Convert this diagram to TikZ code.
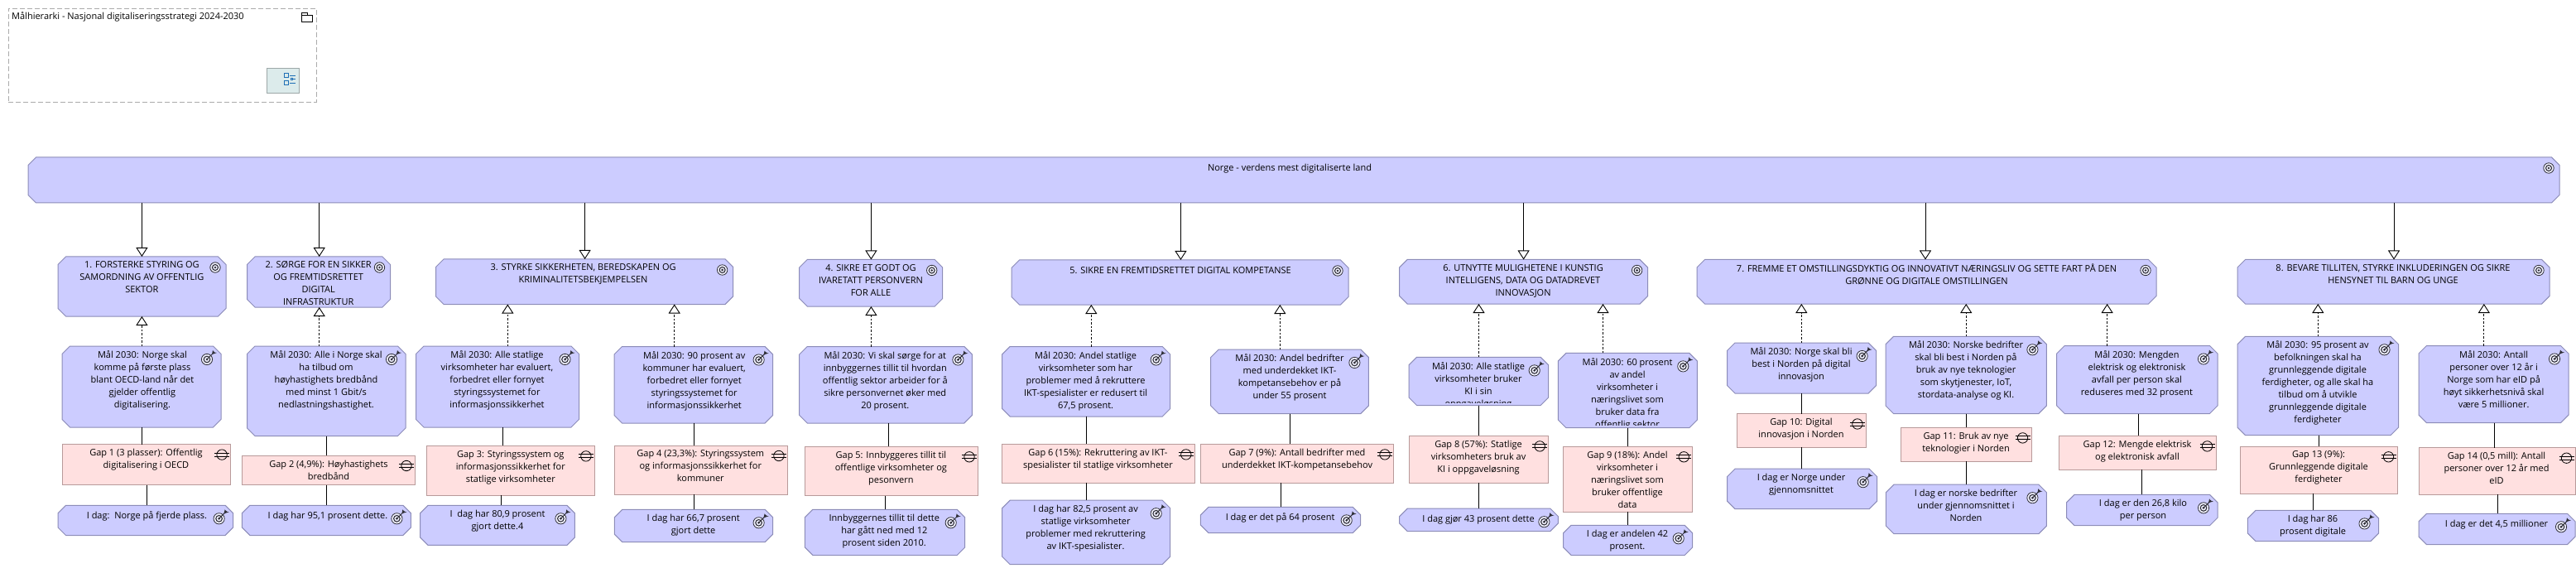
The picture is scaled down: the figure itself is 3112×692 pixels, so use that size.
\documentclass[tikz,border=0pt]{standalone}
\usepackage{fontspec}
\setmainfont{Open Sans}
\usetikzlibrary{arrows.meta}

\definecolor{goalfill}{HTML}{CCCCFF}
\definecolor{goalline}{HTML}{8C8CB8}
\definecolor{gapfill}{HTML}{FFE0E0}
\definecolor{gapline}{HTML}{B89A9A}
\definecolor{tabfill}{HTML}{DCEBEB}
\definecolor{tabline}{HTML}{9DA8A8}
\definecolor{tabicon}{HTML}{1F6FB5}
\definecolor{markgrey}{HTML}{303038}

\makeatletter
\pgfdeclareshape{octbox}{
  \inheritsavedanchors[from=rectangle]
  \inheritanchorborder[from=rectangle]
  \inheritanchor[from=rectangle]{center}
  \inheritanchor[from=rectangle]{north}
  \inheritanchor[from=rectangle]{south}
  \inheritanchor[from=rectangle]{east}
  \inheritanchor[from=rectangle]{west}
  \backgroundpath{
    \southwest \edef\octxa{\the\pgf@x}\edef\octya{\the\pgf@y}
    \northeast \edef\octxb{\the\pgf@x}\edef\octyb{\the\pgf@y}
    \pgfpathmoveto{\pgfpoint{\octxa+9.5pt}{\octya}}
    \pgfpathlineto{\pgfpoint{\octxb-9.5pt}{\octya}}
    \pgfpathlineto{\pgfpoint{\octxb}{\octya+9.5pt}}
    \pgfpathlineto{\pgfpoint{\octxb}{\octyb-9.5pt}}
    \pgfpathlineto{\pgfpoint{\octxb-9.5pt}{\octyb}}
    \pgfpathlineto{\pgfpoint{\octxa+9.5pt}{\octyb}}
    \pgfpathlineto{\pgfpoint{\octxa}{\octyb-9.5pt}}
    \pgfpathlineto{\pgfpoint{\octxa}{\octya+9.5pt}}
    \pgfpathclose
  }
}
\makeatother

\tikzset{
  targetmark/.pic={
    \fill[white!70!goalfill] (0,0) circle (6.2);
    \draw[markgrey, line width=0.8pt] (0,0) circle (6.2);
    \draw[markgrey, line width=1.1pt] (0,0) circle (3.5);
    \fill[markgrey] (0,0) circle (1.4);
  },
  dartmark/.pic={
    \fill[white!70!goalfill] (0,0) circle (6.6);
    \draw[markgrey, line width=0.8pt] (0,0) circle (6.6);
    \draw[markgrey, line width=1.1pt] (0,0) circle (3.8);
    \fill[markgrey] (0,0) circle (1.5);
    \draw[markgrey, line width=1pt] (0,0) -- (9,-9);
    \fill[markgrey] (6,-6) -- (7,-11) -- (9,-8.5) -- (12,-8) -- cycle;
  },
  gapmark/.pic={
    \draw[black, line width=0.8pt] (0,0) circle (6.2);
    \draw[black, line width=1pt] (-9,-2) -- (9,-2);
    \draw[black, line width=1pt] (-9,2) -- (9,2);
  },
  boxat/.style n args={4}{
    at={({(#1+#3)/2},{(#2+#4)/2})},
    minimum width={#3-#1},
    minimum height={#4-#2}
  },
  chambox/.style={
    shape=octbox, draw=goalline, fill=goalfill, line width=1pt, inner sep=0pt, outer sep=0pt
  },
  targetbox/.style={chambox, path picture={
    \pic at ([shift={(-13,13)}]path picture bounding box.north east) {targetmark};}},
  dartbox/.style={chambox, path picture={
    \pic at ([shift={(-17,16)}]path picture bounding box.north east) {dartmark};}},
  gapbox/.style={
    rectangle, draw=gapline, fill=gapfill, line width=1pt, inner sep=0pt, outer sep=0pt,
    path picture={\pic at ([shift={(-10.5,12.5)}]path picture bounding box.north east) {gapmark};}
  },
  boxtext/.style={
    anchor=north, yshift=-5.5pt, inner sep=0pt, align=center, text=black,
    font=\fontsize{11}{15}\selectfont, execute at begin node=\strut
  },
  realize/.style={draw=black, line width=0.9pt, -{Triangle[fill=white, length=11pt, width=14pt]}},
  refine/.style={draw=black, line width=0.8pt, dash pattern=on 2.5pt off 2pt,
    -{Triangle[fill=white, length=11pt, width=14pt, line width=0.9pt]}},
  link/.style={draw=black, line width=0.9pt}
}

\begin{document}
\begin{tikzpicture}[x=1pt, y=-1pt]
  \useasboundingbox (0,0) rectangle (3112,692);

  \node[rectangle, draw=black!33, line width=1pt, dash pattern=on 6pt off 3pt, boxat={10}{10.5}{382}{123.5}] (folder) {};
  \node[anchor=base west, inner sep=0pt, font=\fontsize{11}{15}\selectfont] (foldert) at (14,24) {Målhierarki - Nasjonal digitaliseringsstrategi 2024-2030};
  \draw[black, line width=1pt] (364.3,19) rectangle (377.7,26.7) (364.3,19) -- (364.3,16) -- (371,16) -- (371,19);
  \node[rectangle, draw=tabline, fill=tabfill, line width=1pt, boxat={322.3}{82.5}{361.7}{112.5}] (tab) {};
  \draw[tabicon, line width=0.9pt] (343.3,88.3) rectangle (348.7,93.7) (343.3,97.3) rectangle (348.7,102.7) (351.3,94.3) rectangle (353.7,96.7);
  \draw[tabicon, line width=0.9pt] (350,91.3) -- (357,91.3) (353.7,95.5) -- (357,95.5) (350,100.3) -- (357,100.3);

  \node[targetbox, boxat={34}{190}{3092}{245}] (top) {};
  \node[boxtext] (topt) at (top.north -| 1558,0) {Norge - verdens mest digitaliserte land};

  \node[targetbox, boxat={70}{310}{273}{382}] (g1) {};
  \node[boxtext] (g1t) at (g1.north -| 171.4,0) {1. FORSTERKE STYRING OG\\SAMORDNING AV OFFENTLIG\\SEKTOR};
  \node[targetbox, boxat={298.5}{310}{471.5}{371}] (g2) {};
  \begin{scope}
    \clip (298.5,310) rectangle (471.5,367.5);
    \node[boxtext] (g2t) at (g2.north -| 384.7,0) {2. SØRGE FOR EN SIKKER\\OG FREMTIDSRETTET\\DIGITAL\\INFRASTRUKTUR};
  \end{scope}
  \node[targetbox, boxat={526.5}{313}{885.6}{367.5}] (g3) {};
  \node[boxtext] (g3t) at (g3.north -| 704.6,0) {3. STYRKE SIKKERHETEN, BEREDSKAPEN OG\\KRIMINALITETSBEKJEMPELSEN};
  \node[targetbox, boxat={965.7}{313.5}{1138.7}{370}] (g4) {};
  \node[boxtext] (g4t) at (g4.north -| 1052,0) {4. SIKRE ET GODT OG\\IVARETATT PERSONVERN\\FOR ALLE};
  \node[targetbox, boxat={1222}{314}{1629}{368}] (g5) {};
  \node[boxtext] (g5t) at (g5.north -| 1426,0) {5. SIKRE EN FREMTIDSRETTET DIGITAL KOMPETANSE};
  \node[targetbox, boxat={1690.6}{313.5}{1990.6}{367}] (g6) {};
  \node[boxtext] (g6t) at (g6.north -| 1840,0) {6. UTNYTTE MULIGHETENE I KUNSTIG\\INTELLIGENS, DATA OG DATADREVET\\INNOVASJON};
  \node[targetbox, boxat={2050}{313.5}{2605}{367}] (g7) {};
  \node[boxtext] (g7t) at (g7.north -| 2327.5,0) {7. FREMME ET OMSTILLINGSDYKTIG OG INNOVATIVT NÆRINGSLIV OG SETTE FART PÅ DEN\\GRØNNE OG DIGITALE OMSTILLINGEN};
  \node[targetbox, boxat={2703}{313.5}{3080}{367}] (g8) {};
  \node[boxtext] (g8t) at (g8.north -| 2891,0) {8. BEVARE TILLITEN, STYRKE INKLUDERINGEN OG SIKRE\\HENSYNET TIL BARN OG UNGE};

  \node[dartbox, boxat={75}{418}{267}{516}] (m1) {};
  \node[boxtext] (m1t) at (m1.north -| 172,0) {Mål 2030: Norge skal\\komme på første plass\\blant OECD-land når det\\gjelder offentlig\\digitalisering.};
  \node[dartbox, boxat={298.5}{418}{490}{526.5}] (m2) {};
  \node[boxtext] (m2t) at (m2.north -| 394,0) {Mål 2030: Alle i Norge skal\\ha tilbud om\\høyhastighets bredbånd\\med minst 1 Gbit/s\\nedlastningshastighet.};
  \node[dartbox, boxat={502.5}{418}{699.5}{516}] (m3) {};
  \node[boxtext] (m3t) at (m3.north -| 600.5,0) {Mål 2030: Alle statlige\\virksomheter har evaluert,\\forbedret eller fornyet\\styringssystemet for\\informasjonssikkerhet};
  \node[dartbox, boxat={742}{418.5}{933.6}{511}] (m4) {};
  \node[boxtext] (m4t) at (m4.north -| 838.7,0) {Mål 2030: 90 prosent av\\kommuner har evaluert,\\forbedret eller fornyet\\styringssystemet for\\informasjonssikkerhet};
  \node[dartbox, boxat={965.7}{418.5}{1174.4}{511}] (m5) {};
  \node[boxtext] (m5t) at (m5.north -| 1069.3,0) {Mål 2030: Vi skal sørge for at\\innbyggernes tillit til hvordan\\offentlig sektor arbeider for å\\sikre personvernet øker med\\20 prosent.};
  \node[dartbox, boxat={1210.6}{418.5}{1413.7}{503}] (m6) {};
  \node[boxtext] (m6t) at (m6.north -| 1311.6,0) {Mål 2030: Andel statlige\\virksomheter som har\\problemer med å rekruttere\\IKT-spesialister er redusert til\\67,5 prosent.};
  \node[dartbox, boxat={1462.7}{422}{1653.4}{499.5}] (m7) {};
  \node[boxtext] (m7t) at (m7.north -| 1558,0) {Mål 2030: Andel bedrifter\\med underdekket IKT-\\kompetansebehov er på\\under 55 prosent};
  \node[dartbox, boxat={1702}{431.4}{1870.7}{489.5}] (m8) {};
  \begin{scope}
    \clip (1702,431.4) rectangle (1870.7,486);
    \node[boxtext] (m8t) at (m8.north -| 1786,0) {Mål 2030: Alle statlige\\virksomheter bruker\\KI i sin\\oppgaveløsning};
  \end{scope}
  \node[dartbox, boxat={1882.4}{426.4}{2050.3}{516.7}] (m9) {};
  \begin{scope}
    \clip (1882.4,426.4) rectangle (2050.3,513.5);
    \node[boxtext] (m9t) at (m9.north -| 1966,0) {Mål 2030: 60 prosent\\av andel\\virksomheter i\\næringslivet som\\bruker data fra\\offentlig sektor};
  \end{scope}
  \node[dartbox, boxat={2086.5}{414}{2266.6}{475}] (m10) {};
  \node[boxtext] (m10t) at (m10.north -| 2176,0) {Mål 2030: Norge skal bli\\best i Norden på digital\\innovasjon};
  \node[dartbox, boxat={2278}{406.3}{2472.4}{499.5}] (m11) {};
  \node[boxtext] (m11t) at (m11.north -| 2375,0) {Mål 2030: Norske bedrifter\\skal bli best i Norden på\\bruk av nye teknologier\\som skytjenester, IoT,\\stordata-analyse og KI.};
  \node[dartbox, boxat={2484.7}{417.5}{2679}{499.5}] (m12) {};
  \node[boxtext] (m12t) at (m12.north -| 2581.4,0) {Mål 2030: Mengden\\elektrisk og elektronisk\\avfall per person skal\\reduseres med 32 prosent};
  \node[dartbox, boxat={2703}{406.3}{2897.5}{525.7}] (m13) {};
  \node[boxtext] (m13t) at (m13.north -| 2800,0) {Mål 2030: 95 prosent av\\befolkningen skal ha\\grunnleggende digitale\\ferdigheter, og alle skal ha\\tilbud om å utvikle\\grunnleggende digitale\\ferdigheter};
  \node[dartbox, boxat={2922}{417.5}{3103}{510.6}] (m14) {};
  \node[boxtext] (m14t) at (m14.north -| 3012.6,0) {Mål 2030: Antall\\personer over 12 år i\\Norge som har eID på\\høyt sikkerhetsnivå skal\\være 5 millioner.};

  \node[gapbox, boxat={75}{536.6}{278.6}{585.6}] (gp1) {};
  \node[boxtext] (gp1t) at (gp1.north -| 176.5,0) {Gap 1 (3 plasser): Offentlig\\digitalisering i OECD};
  \node[gapbox, boxat={292.3}{550}{501.5}{585.6}] (gp2) {};
  \node[boxtext] (gp2t) at (gp2.north -| 397,0) {Gap 2 (4,9\%): Høyhastighets\\bredbånd};
  \node[gapbox, boxat={515.3}{538.4}{718.4}{598.4}] (gp3) {};
  \node[boxtext] (gp3t) at (gp3.north -| 616.8,0) {Gap 3: Styringssystem og\\informasjonssikkerhet for\\statlige virksomheter};
  \node[gapbox, boxat={742.3}{538}{951.4}{597.4}] (gp4) {};
  \node[boxtext] (gp4t) at (gp4.north -| 846.3,0) {Gap 4 (23,3\%): Styringssystem\\og informasjonssikkerhet for\\kommuner};
  \node[gapbox, boxat={972.3}{539.3}{1181.5}{598.5}] (gp5) {};
  \node[boxtext] (gp5t) at (gp5.north -| 1076.4,0) {Gap 5: Innbyggeres tillit til\\offentlige virksomheter og\\pesonvern};
  \node[gapbox, boxat={1210.6}{536.4}{1443.3}{583.4}] (gp6) {};
  \node[boxtext] (gp6t) at (gp6.north -| 1326.4,0) {Gap 6 (15\%): Rekruttering av IKT-\\spesialister til statlige virksomheter};
  \node[gapbox, boxat={1450.4}{536.4}{1683.5}{583.4}] (gp7) {};
  \node[boxtext] (gp7t) at (gp7.north -| 1567,0) {Gap 7 (9\%): Antall bedrifter med\\underdekket IKT-kompetansebehov};
  \node[gapbox, boxat={1702.3}{526.4}{1870.7}{583.4}] (gp8) {};
  \node[boxtext] (gp8t) at (gp8.north -| 1786,0) {Gap 8 (57\%): Statlige\\virksomheters bruk av\\KI i oppgaveløsning};
  \node[gapbox, boxat={1888.6}{539.3}{2044.7}{618.2}] (gp9) {};
  \node[boxtext] (gp9t) at (gp9.north -| 1966,0) {Gap 9 (18\%): Andel\\virksomheter i\\næringslivet som\\bruker offentlige\\data};
  \node[gapbox, boxat={2098.3}{499.5}{2254.4}{540.4}] (gp10) {};
  \node[boxtext] (gp10t) at (gp10.north -| 2176,0) {Gap 10: Digital\\innovasjon i Norden};
  \node[gapbox, boxat={2296.7}{516.4}{2454}{557}] (gp11) {};
  \node[boxtext] (gp11t) at (gp11.north -| 2375,0) {Gap 11: Bruk av nye\\teknologier i Norden};
  \node[gapbox, boxat={2487.8}{526.4}{2677}{567.3}] (gp12) {};
  \node[boxtext] (gp12t) at (gp12.north -| 2582,0) {Gap 12: Mengde elektrisk\\og elektronisk avfall};
  \node[gapbox, boxat={2706}{539.3}{2896}{596.3}] (gp13) {};
  \node[boxtext] (gp13t) at (gp13.north -| 2801,0) {Gap 13 (9\%):\\Grunnleggende digitale\\ferdigheter};
  \node[gapbox, boxat={2922}{540.7}{3111}{597.4}] (gp14) {};
  \node[boxtext] (gp14t) at (gp14.north -| 3016,0) {Gap 14 (0,5 mill): Antall\\personer over 12 år med\\eID};

  \node[dartbox, boxat={70}{610.3}{281.6}{646.5}] (d1) {};
  \node[boxtext] (d1t) at (d1.north -| 177.5,0) {I dag:\ \ Norge på fjerde plass.};
  \node[dartbox, boxat={292.3}{610.3}{496.4}{646.5}] (d2) {};
  \node[boxtext] (d2t) at (d2.north -| 396,0) {I dag har 95,1 prosent dette.};
  \node[dartbox, boxat={507.6}{610.3}{694.4}{658.4}] (d3) {};
  \node[boxtext] (d3t) at (d3.north -| 601,0) {I\ \ dag har 80,9 prosent\\gjort dette.4};
  \node[dartbox, boxat={742.3}{615.3}{933.6}{654.7}] (d4) {};
  \node[boxtext] (d4t) at (d4.north -| 837.6,0) {I dag har 66,7 prosent\\gjort dette};
  \node[dartbox, boxat={972.3}{615.3}{1165.7}{670.5}] (d5) {};
  \node[boxtext] (d5t) at (d5.north -| 1068.3,0) {Innbyggernes tillit til dette\\har gått ned med 12\\prosent siden 2010.};
  \node[dartbox, boxat={1210.6}{604.2}{1413.7}{681.6}] (d6) {};
  \node[boxtext] (d6t) at (d6.north -| 1311.6,0) {I dag har 82,5 prosent av\\statlige virksomheter\\problemer med rekruttering\\av IKT-spesialister.};
  \node[dartbox, boxat={1450.4}{612.4}{1643.7}{643.6}] (d7) {};
  \node[boxtext] (d7t) at (d7.north -| 1546.6,0) {I dag er det på 64 prosent};
  \node[dartbox, boxat={1690.6}{614.2}{1882.4}{641.5}] (d8) {};
  \node[boxtext] (d8t) at (d8.north -| 1786,0) {I dag gjør 43 prosent dette};
  \node[dartbox, boxat={1888.6}{634.3}{2044.7}{670.5}] (d9) {};
  \node[boxtext] (d9t) at (d9.north -| 1966,0) {I dag er andelen 42\\prosent.};
  \node[dartbox, boxat={2086.5}{566.2}{2267.7}{614.6}] (d10) {};
  \node[boxtext] (d10t) at (d10.north -| 2176,0) {I dag er Norge under\\gjennomsnittet};
  \node[dartbox, boxat={2278.4}{585.2}{2472.4}{644.7}] (d11) {};
  \node[boxtext] (d11t) at (d11.north -| 2375,0) {I dag er norske bedrifter\\under gjennomsnittet i\\Norden};
  \node[dartbox, boxat={2496.5}{597.4}{2679}{634.7}] (d12) {};
  \node[boxtext] (d12t) at (d12.north -| 2589,0) {I dag er den 26,8 kilo\\per person};
  \node[dartbox, boxat={2715.4}{616.4}{2873.5}{653.6}] (d13) {};
  \node[boxtext] (d13t) at (d13.north -| 2794,0) {I dag har 86\\prosent digitale};
  \node[dartbox, boxat={2922}{620.3}{3111}{657.6}] (d14) {};
  \node[boxtext] (d14t) at (d14.north -| 3016,0) {I dag er det 4,5 millioner};

  \draw[realize] (top.south -| 171.4,0) -- (g1.north -| 171.4,0);
  \draw[realize] (top.south -| 385.7,0) -- (g2.north -| 385.7,0);
  \draw[realize] (top.south -| 706.6,0) -- (g3.north -| 706.6,0);
  \draw[realize] (top.south -| 1052.4,0) -- (g4.north -| 1052.4,0);
  \draw[realize] (top.south -| 1426.4,0) -- (g5.north -| 1426.4,0);
  \draw[realize] (top.south -| 1840.6,0) -- (g6.north -| 1840.6,0);
  \draw[realize] (top.south -| 2326,0) -- (g7.north -| 2326,0);
  \draw[realize] (top.south -| 2892,0) -- (g8.north -| 2892,0);

  \draw[refine] (m1.north -| 171.4,0) -- (g1.south -| 171.4,0);
  \draw[refine] (m2.north -| 385.7,0) -- (g2.south -| 385.7,0);
  \draw[refine] (m3.north -| 613.3,0) -- (g3.south -| 613.3,0);
  \draw[refine] (m4.north -| 814.7,0) -- (g3.south -| 814.7,0);
  \draw[refine] (m5.north -| 1052.4,0) -- (g4.south -| 1052.4,0);
  \draw[refine] (m6.north -| 1318.3,0) -- (g5.south -| 1318.3,0);
  \draw[refine] (m7.north -| 1546.3,0) -- (g5.south -| 1546.3,0);
  \draw[refine] (m8.north -| 1786.5,0) -- (g6.south -| 1786.5,0);
  \draw[refine] (m9.north -| 1936.5,0) -- (g6.south -| 1936.5,0);
  \draw[refine] (m10.north -| 2176.3,0) -- (g7.south -| 2176.3,0);
  \draw[refine] (m11.north -| 2375.2,0) -- (g7.south -| 2375.2,0);
  \draw[refine] (m12.north -| 2545.6,0) -- (g7.south -| 2545.6,0);
  \draw[refine] (m13.north -| 2800.3,0) -- (g8.south -| 2800.3,0);
  \draw[refine] (m14.north -| 3000.8,0) -- (g8.south -| 3000.8,0);

  \draw[link] (m1.south -| 171.4,0) -- (gp1.north -| 171.4,0);
  \draw[link] (m2.south -| 394.4,0) -- (gp2.north -| 394.4,0);
  \draw[link] (m3.south -| 607.7,0) -- (gp3.north -| 607.7,0);
  \draw[link] (m4.south -| 838.7,0) -- (gp4.north -| 838.7,0);
  \draw[link] (m5.south -| 1073.4,0) -- (gp5.north -| 1073.4,0);
  \draw[link] (m6.south -| 1312.7,0) -- (gp6.north -| 1312.7,0);
  \draw[link] (m7.south -| 1558.6,0) -- (gp7.north -| 1558.6,0);
  \draw[link] (m8.south -| 1786.5,0) -- (gp8.north -| 1786.5,0);
  \draw[link] (m9.south -| 1966.6,0) -- (gp9.north -| 1966.6,0);
  \draw[link] (m10.south -| 2176.3,0) -- (gp10.north -| 2176.3,0);
  \draw[link] (m11.south -| 2375.2,0) -- (gp11.north -| 2375.2,0);
  \draw[link] (m12.south -| 2583,0) -- (gp12.north -| 2583,0);
  \draw[link] (m13.south -| 2801.3,0) -- (gp13.north -| 2801.3,0);
  \draw[link] (m14.south -| 3013,0) -- (gp14.north -| 3013,0);

  \draw[link] (gp1.south -| 177.6,0) -- (d1.north -| 177.6,0);
  \draw[link] (gp2.south -| 394.4,0) -- (d2.north -| 394.4,0);
  \draw[link] (gp3.south -| 605.6,0) -- (d3.north -| 605.6,0);
  \draw[link] (gp4.south -| 838.7,0) -- (d4.north -| 838.7,0);
  \draw[link] (gp5.south -| 1069.3,0) -- (d5.north -| 1069.3,0);
  \draw[link] (gp6.south -| 1312.7,0) -- (d6.north -| 1312.7,0);
  \draw[link] (gp7.south -| 1547.3,0) -- (d7.north -| 1547.3,0);
  \draw[link] (gp8.south -| 1786.5,0) -- (d8.north -| 1786.5,0);
  \draw[link] (gp9.south -| 1966.6,0) -- (d9.north -| 1966.6,0);
  \draw[link] (gp10.south -| 2176.3,0) -- (d10.north -| 2176.3,0);
  \draw[link] (gp11.south -| 2375.2,0) -- (d11.north -| 2375.2,0);
  \draw[link] (gp12.south -| 2587,0) -- (d12.north -| 2587,0);
  \draw[link] (gp13.south -| 2794.7,0) -- (d13.north -| 2794.7,0);
  \draw[link] (gp14.south -| 3017,0) -- (d14.north -| 3017,0);
\end{tikzpicture}
\end{document}
